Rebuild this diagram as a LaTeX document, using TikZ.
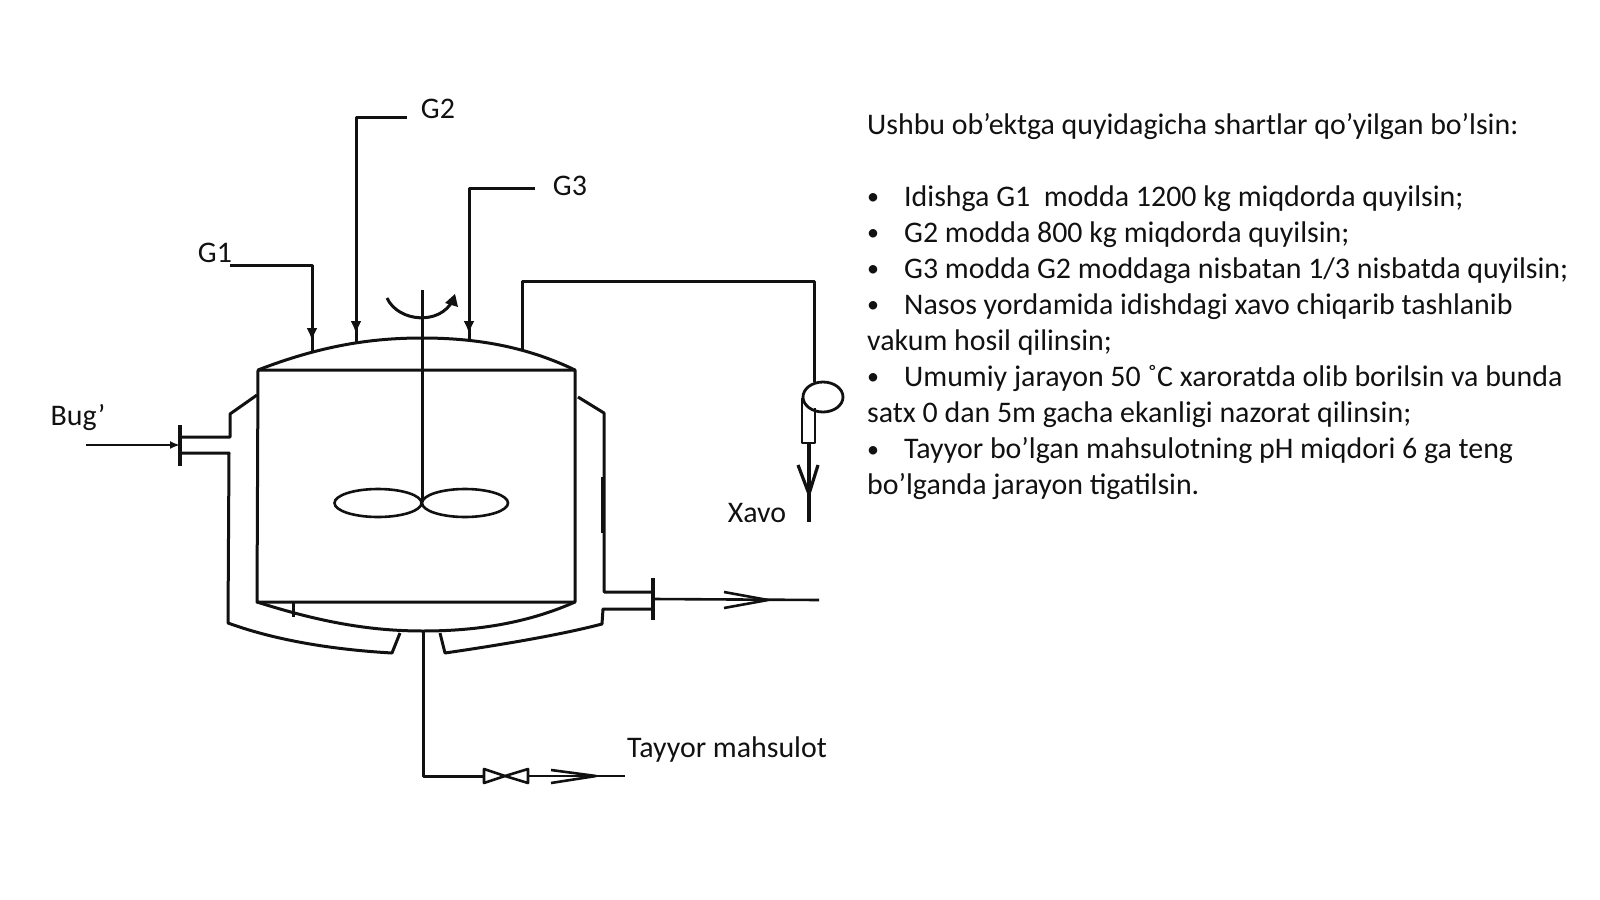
\documentclass[tikz,border=0pt]{standalone}
\usepackage{fontspec}
\setmainfont{Carlito}
\usetikzlibrary{arrows.meta,shapes.geometric}
\definecolor{ink}{HTML}{111111}
\tikzset{
  pipe/.style={draw=ink,line width=3pt,line join=round},
  thin pipe/.style={draw=ink,line width=2.6pt,line join=round},
  feed/.style={pipe,-{Latex[length=13pt,width=11pt]}},
  lbl/.style={font=\fontsize{29.9}{36}\selectfont,text=ink,inner sep=0pt},
  para/.style={lbl,anchor=base west},
  dot/.style={para,font=\fontsize{24}{28}\selectfont},
}
\begin{document}
\begin{tikzpicture}[x=1pt,y=-1pt]
\useasboundingbox (0,0) rectangle (1600,899);
% named vessel points
\coordinate (vTL) at (258,370);
\coordinate (vTR) at (575,370);
\coordinate (vBL) at (257,602);
\coordinate (vBR) at (575,602);
\coordinate (domeTop) at (422,338);
\coordinate (sumpTop) at (423,631);
% vessel body
\draw[pipe] (vTL) -- (vBL) -- (vBR) -- (vTR) -- cycle;
\draw[pipe] (vTL) .. controls (320,346) and (370,338) .. (domeTop) .. controls (475,338) and (525,346) .. (vTR);
\draw[pipe] (vBL) .. controls (320,622) and (370,631) .. (sumpTop) .. controls (480,631) and (530,622) .. (vBR);
% jacket
\coordinate (fL) at (180,445);
\coordinate (fR) at (653,599);
\draw[pipe] (257,395) -- (230,414) -- (230,437) -- (180,437);
\draw[pipe] (180,453) -- (229,453) -- (228,623) .. controls (280,642) and (340,650) .. (392,653) -- (400,633);
\draw[pipe] (440,633) -- (445,653) .. controls (500,645) and (560,635) .. (602,624) -- (603,609) -- (653,609);
\draw[pipe] (653,592) -- (604,592) -- (604,413) -- (578,397);
\draw[pipe] (293,602) -- (293,617);
\draw[draw=ink,line width=3.6pt] (603,477) -- (603,533);
% flanges
\draw[pipe,line width=3.2pt] (180,425) -- (180,466);
\draw[pipe,line width=3.2pt] (653,578) -- (653,620);
% steam in
\coordinate (bugIn) at (86,445);
\draw[thin pipe,-{Latex[length=10pt,width=8pt]}] (bugIn) -- (fL);
% steam out
\coordinate (outEnd) at (819,600);
\draw[thin pipe] (fR) -- (outEnd);
\draw[thin pipe] (724,592) -- (768,600) -- (724,608);
\draw[thin pipe] (730,600) -- (768,600);
% feeds
\coordinate (g1s) at (230,265);
\coordinate (g1e) at (312,351);
\coordinate (g2s) at (407,117);
\coordinate (g2e) at (356,342);
\coordinate (g3s) at (535,188);
\coordinate (g3e) at (469,342);
\draw[pipe] (g1s) -- (312,265) -- (g1e);
\draw[feed] (312,265) -- (312,341);
\draw[pipe] (g2s) -- (356,117) -- (g2e);
\draw[feed] (356,117) -- (356,334);
\draw[pipe] (g3s) -- (469,188) -- (g3e);
\draw[feed] (469,188) -- (469,334);
% shaft and stirrer
\coordinate (shaftTop) at (422,290);
\coordinate (shaftEnd) at (422,502);
\draw[pipe] (shaftTop) -- (shaftEnd);
\draw[pipe] (387,298) .. controls (398,322) and (440,326) .. (453,300);
\fill[ink] (455,294) -- (458,307) -- (445,303) -- cycle;
\node[draw=ink,line width=2.6pt,ellipse,minimum width=87pt,minimum height=28pt,inner sep=0pt] (bladeL) at (378,503) {};
\node[draw=ink,line width=2.6pt,ellipse,minimum width=86pt,minimum height=28pt,inner sep=0pt] (bladeR) at (465,503) {};
% vent and pump
\node[draw=ink,line width=2.8pt,ellipse,minimum width=40pt,minimum height=30pt,inner sep=0pt,fill=white] (pump) at (823,397) {};
\draw[pipe] (522,350) -- (522,281) -- (814,281) -- (814,382);
\draw[thin pipe] (802,398) -- (802,443) -- (815,443) -- (815,408);
\coordinate (ventEnd) at (809,522);
\draw[pipe,line width=3.2pt] (809,443) -- (ventEnd);
\draw[pipe,line width=3.2pt] (798,465) -- (809,494) -- (818,465);
% drain
\coordinate (vlvC) at (505,776);
\coordinate (drainEnd) at (625,776);
\draw[pipe] (sumpTop) -- (423,776) -- (483,776);
\draw[thin pipe] (484,769) -- (vlvC) -- (484,783) -- cycle;
\draw[thin pipe] (528,769) -- (vlvC) -- (528,783) -- cycle;
\draw[thin pipe] (528,776) -- (drainEnd);
\draw[thin pipe] (551,770) -- (596,776) -- (551,783);
% labels
\node[lbl] (tG2) at (438,108.5) {G2};
\node[lbl] (tG3) at (570,185.5) {G3};
\node[lbl] (tG1) at (215,252.5) {G1};
\node[lbl] (tBug) at (78,418) {Bug’};
\node[lbl] (tXavo) at (757,513) {Xavo};
\node[lbl] (tTay) at (727,750) {Tayyor mahsulot};
% text block
\node[para] (p0) at (867,134) {Ushbu ob’ektga quyidagicha shartlar qo’yilgan bo’lsin:};
\node[dot] (b1) at (867,204) {•}; \node[para] (p1) at (904,206) {Idishga G1\ \ modda 1200 kg miqdorda quyilsin;};
\node[dot] (b2) at (867,240) {•}; \node[para] (p2) at (904,242) {G2 modda 800 kg miqdorda quyilsin;};
\node[dot] (b3) at (867,276) {•}; \node[para] (p3) at (904,278) {G3 modda G2 moddaga nisbatan 1/3 nisbatda quyilsin;};
\node[dot] (b4) at (867,312) {•}; \node[para] (p4) at (904,314) {Nasos yordamida idishdagi xavo chiqarib tashlanib};
\node[para] (p5) at (867,350) {vakum hosil qilinsin;};
\node[dot] (b6) at (867,384) {•}; \node[para] (p6) at (904,386) {Umumiy jarayon 50 ˚C xaroratda olib borilsin va bunda};
\node[para] (p7) at (867,422) {satx 0 dan 5m gacha ekanligi nazorat qilinsin;};
\node[dot] (b8) at (867,457) {•}; \node[para] (p8) at (904,458) {Tayyor bo’lgan mahsulotning pH miqdori 6 ga teng};
\node[para] (p9) at (867,494) {bo’lganda jarayon tigatilsin.};
\end{tikzpicture}
\end{document}
